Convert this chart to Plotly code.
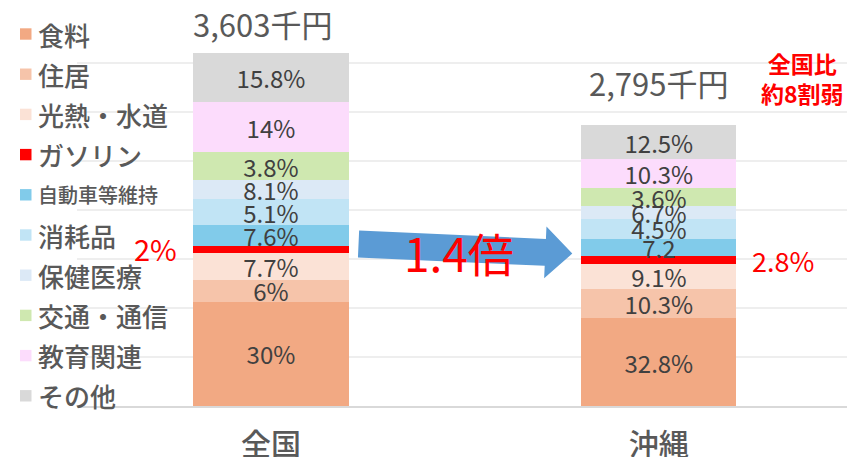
import math
import plotly.graph_objects as go

# ---------------- data ----------------
categories = ["全国", "沖縄"]
items = ["食料", "住居", "光熱・水道", "ガソリン", "自動車等維持",
         "消耗品", "保健医療", "交通・通信", "教育関連", "その他"]
# segment heights (thousand yen) as drawn
zenkoku_vals = [1066, 217, 283, 67, 211, 265, 194, 289, 510, 500]
okinawa_vals = [898, 293, 262, 78, 178, 197, 133, 187, 290, 350]
# labels printed in segments
zenkoku_labels = ["30%", "6%", "7.7%", "", "7.6%", "5.1%", "8.1%", "3.8%", "14%", "15.8%"]
okinawa_labels = ["32.8%", "10.3%", "9.1%", "", "7.2", "4.5%", "6.7%", "3.6%", "10.3%", "12.5%"]
total_labels = ["3,603千円", "2,795千円"]
gas_labels = ["2%", "2.8%"]
ratio_label = "1.4倍"
note_label = "全国比<br>約8割弱"

colors = ["#F2A983", "#F6C4AA", "#FBE2D6", "#FF0000", "#81CBEA",
          "#C1E4F5", "#DCE9F6", "#CFE8B0", "#FCDCFC", "#D9D9D9"]

FONT = "Noto Sans CJK JP"
GRAY = "#595959"

W, H = 847, 457
ML, MR, MT, MB = 77, 0, 33, 51
XR = [-0.5, 1.485]
YR = [0, 3807]
PW = W - ML - MR
PH = H - MT - MB
sx = PW / (XR[1] - XR[0])
sy = (YR[1] - YR[0]) / PH


def to_px(x, y):
    return ML + (x - XR[0]) * sx, MT + (YR[1] - y) / sy


def to_data(px, py):
    return XR[0] + (px - ML) / sx, YR[1] - (py - MT) * sy


def paper_x(px):
    return (px - ML) / PW


def paper_y(py):
    return 1 - (py - MT) / PH


fig = go.Figure()

for i, item in enumerate(items):
    fig.add_trace(go.Bar(
        x=categories, y=[zenkoku_vals[i], okinawa_vals[i]],
        name=item,
        marker=dict(color=colors[i], line=dict(width=0)),
        width=0.4,
        text=[zenkoku_labels[i], okinawa_labels[i]],
        textposition="inside", insidetextanchor="middle",
        textangle=0, constraintext="none",
        textfont=dict(family=FONT, size=24, color="#404040"),
        hoverinfo="name+y",
    ))

# cumulative tops for connector lines
cz, co = [], []
sz = so = 0
for a, b in zip(zenkoku_vals, okinawa_vals):
    sz += a
    so += b
    cz.append(sz)
    co.append(so)

for i in range(len(items)):
    fig.add_trace(go.Scatter(
        x=[0.2, 0.8], y=[cz[i], co[i]], mode="lines",
        line=dict(color="#ABABAB", width=2, dash="dash"),
        showlegend=False, hoverinfo="skip",
    ))

# legend (drawn manually, top item = bottom of stack)
LEG_Y0, LEG_STEP = 34, 40.2
for i, item in enumerate(items):
    cy = LEG_Y0 + LEG_STEP * i
    fig.add_shape(type="rect", xref="paper", yref="paper",
                  x0=paper_x(20), x1=paper_x(31.5),
                  y0=paper_y(cy + 5.7), y1=paper_y(cy - 5.7),
                  fillcolor=colors[i], line=dict(width=0), layer="above")
    size = 20 if item == "自動車等維持" else 26
    fig.add_annotation(xref="paper", yref="paper",
                       x=paper_x(36), y=paper_y(cy), xanchor="left", yanchor="middle",
                       text=item, showarrow=False,
                       font=dict(family=FONT, size=size, color=GRAY, weight=500))

# block arrow from 全国 gasoline to 沖縄 gasoline
gi = items.index("ガソリン")
p0 = to_px(0.2, cz[gi])
p1 = to_px(0.8, co[gi])
tail = (p0[0] + 10, p0[1] - 2)
tip = (p1[0] - 9, p1[1] - 2.4)
dx, dy = tip[0] - tail[0], tip[1] - tail[1]
L = math.hypot(dx, dy)
ux, uy = dx / L, dy / L
nx, ny = -uy, ux
hw, headw, headl = 13.5, 26, 27
base = (tip[0] - ux * headl, tip[1] - uy * headl)
pts_px = [
    (tail[0] + nx * hw, tail[1] + ny * hw),
    (base[0] + nx * hw, base[1] + ny * hw),
    (base[0] + nx * headw, base[1] + ny * headw),
    tip,
    (base[0] - nx * headw, base[1] - ny * headw),
    (base[0] - nx * hw, base[1] - ny * hw),
    (tail[0] - nx * hw, tail[1] - ny * hw),
]
pts = [to_data(*p) for p in pts_px]
path = "M " + " L ".join(f"{x},{y}" for x, y in pts) + " Z"
fig.add_shape(type="path", path=path, xref="x", yref="y",
              fillcolor="#5B9BD5", line=dict(width=0), layer="above")

mid = to_data((tail[0] + tip[0]) / 2, (tail[1] + tip[1]) / 2)
fig.add_annotation(x=mid[0], y=mid[1], text=ratio_label, showarrow=False,
                   xshift=-6, yshift=-3,
                   font=dict(family=FONT, size=46, color="#FF0000"))

# totals
tot = [cz[-1], co[-1]]
fig.add_annotation(x=0, y=tot[0], text=total_labels[0], showarrow=False,
                   yanchor="middle", yshift=30, xshift=-8,
                   font=dict(family=FONT, size=31, color=GRAY))
fig.add_annotation(x=1, y=tot[1], text=total_labels[1], showarrow=False,
                   yanchor="middle", yshift=43, xshift=0,
                   font=dict(family=FONT, size=31, color=GRAY))

# gasoline shares
gz = cz[gi] - zenkoku_vals[gi] / 2
go_ = co[gi] - okinawa_vals[gi] / 2
fig.add_annotation(x=-0.2, y=gz, text=gas_labels[0], showarrow=False,
                   xanchor="right", xshift=-14, yshift=1,
                   font=dict(family=FONT, size=29, color="#FF0000"))
fig.add_annotation(x=1.2, y=go_, text=gas_labels[1], showarrow=False,
                   xanchor="left", xshift=14, yshift=-1,
                   font=dict(family=FONT, size=27, color="#FF0000"))

# note
fig.add_annotation(xref="paper", yref="paper",
                   x=paper_x(802), y=paper_y(78.5),
                   xanchor="center", yanchor="middle",
                   text=note_label, showarrow=False,
                   font=dict(family=FONT, size=23, color="#FF0000", weight="bold"))

fig.update_layout(
    width=W, height=H,
    margin=dict(l=ML, r=MR, t=MT, b=MB, autoexpand=False),
    paper_bgcolor="white", plot_bgcolor="white",
    barmode="stack",
    font=dict(family=FONT, color=GRAY),
    showlegend=False,
    xaxis=dict(range=XR, showgrid=False, showline=True, linecolor="#D9D9D9",
               linewidth=2, ticks="", ticklabelstandoff=11,
               tickfont=dict(family=FONT, size=30, color=GRAY, weight=500),
               automargin=False, fixedrange=True),
    yaxis=dict(range=YR, showgrid=True, gridcolor="#EEEEEE", gridwidth=1.5,
               dtick=500, showticklabels=False, zeroline=False,
               automargin=False, fixedrange=True),
)

fig.write_html("out.html", include_plotlyjs=True,
               config={"displayModeBar": False},
               post_script="document.body.style.margin='0';document.body.style.overflow='hidden';")
